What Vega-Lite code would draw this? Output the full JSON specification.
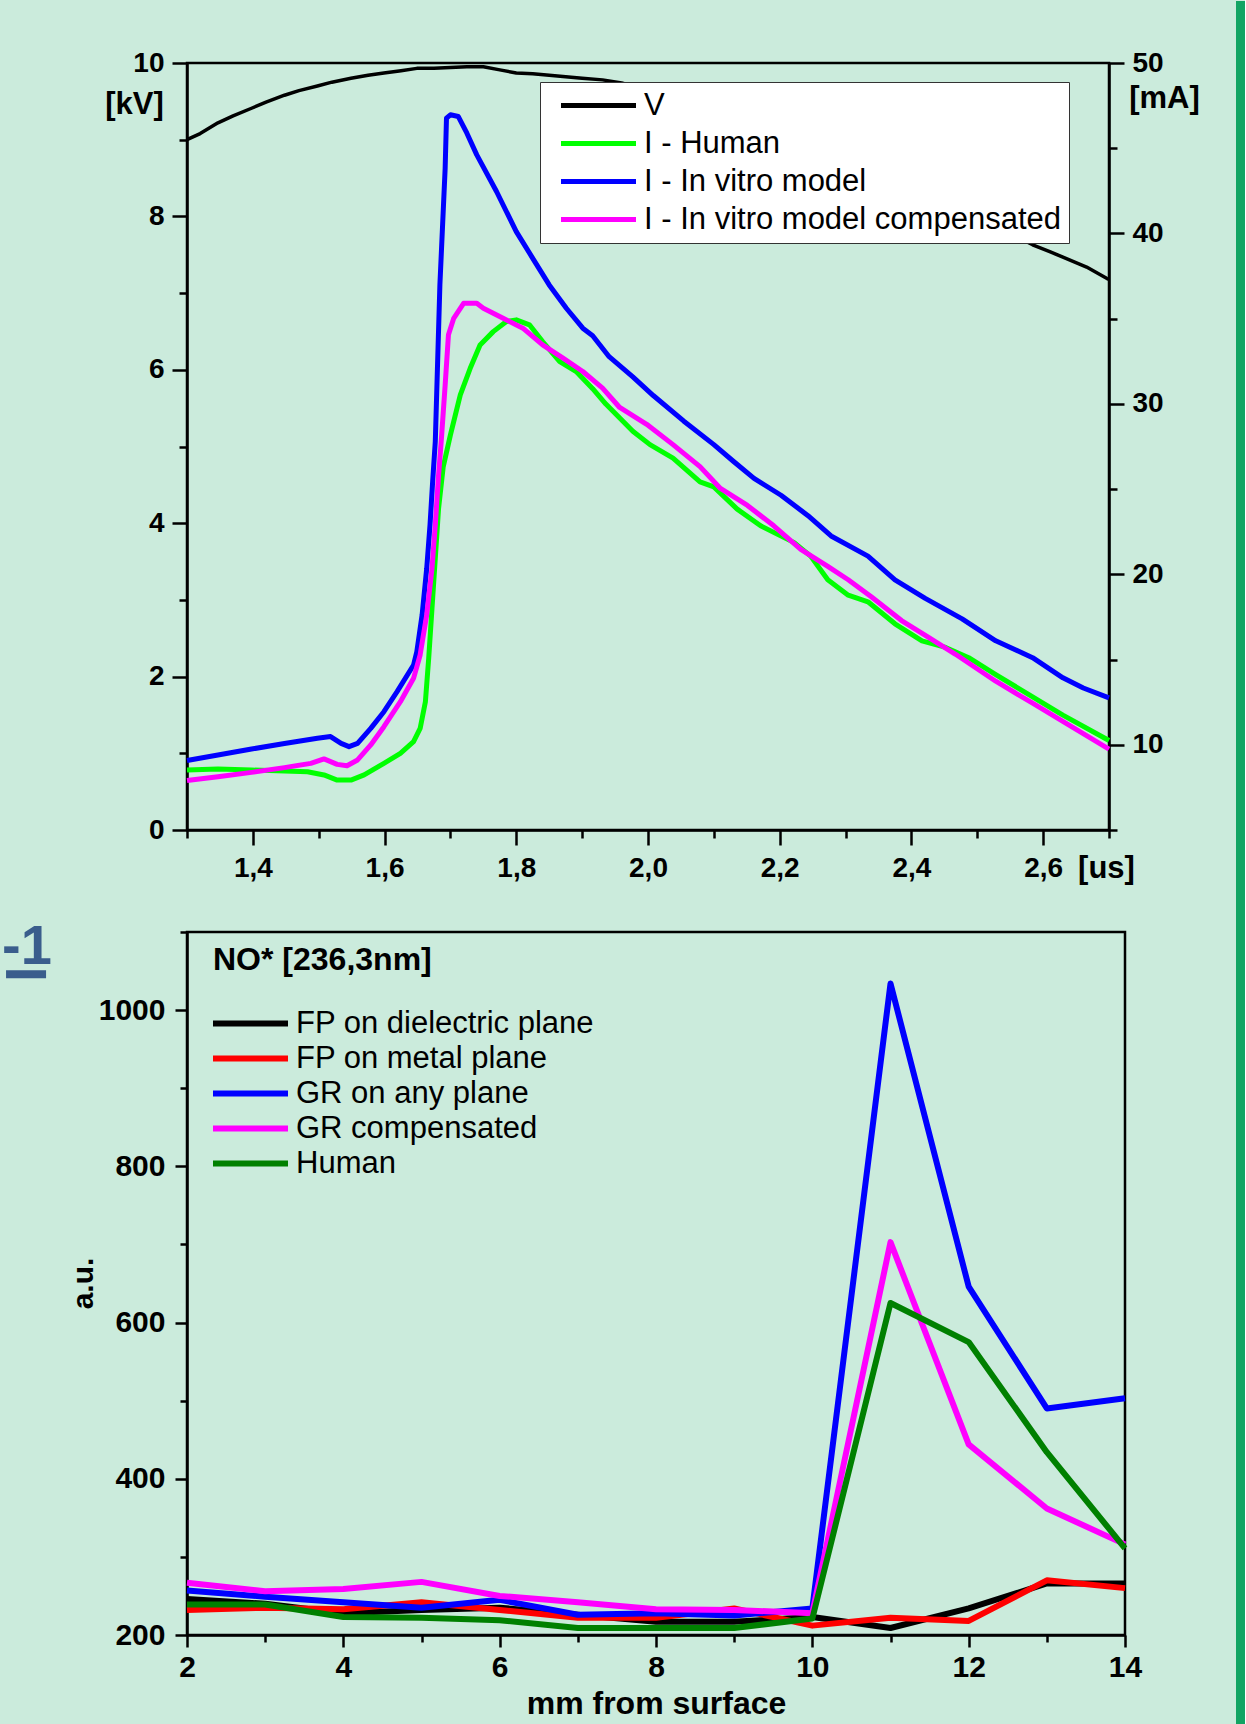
{
  "$schema": "https://vega.github.io/schema/vega-lite/v6.json",
  "background": "#cbebdc",
  "padding": {"left": 0, "top": 0, "right": 0, "bottom": 0},
  "config": {
    "font": "Liberation Sans",
    "view": {"stroke": "black", "strokeWidth": 2.5},
    "axis": {
      "domainColor": "black", "domainWidth": 2.5, "tickColor": "black", "tickWidth": 2.5,
      "labelFont": "Liberation Sans", "labelFontWeight": "bold", "labelFontSize": 28, "labelColor": "black",
      "titleFont": "Liberation Sans", "titleFontWeight": "bold", "titleFontSize": 31, "titleColor": "black",
      "grid": false, "labelFlush": false, "labelOverlap": false, "labelPadding": 8
    }
  },
  "datasets": {
    "V": [
      {"s":"V","t":1.30,"v":9.00},{"s":"V","t":1.32,"v":9.08},{"s":"V","t":1.347,"v":9.22},{"s":"V","t":1.37,"v":9.31},
      {"s":"V","t":1.398,"v":9.41},{"s":"V","t":1.42,"v":9.49},{"s":"V","t":1.448,"v":9.58},{"s":"V","t":1.47,"v":9.64},
      {"s":"V","t":1.498,"v":9.70},{"s":"V","t":1.52,"v":9.75},{"s":"V","t":1.549,"v":9.80},{"s":"V","t":1.575,"v":9.84},
      {"s":"V","t":1.599,"v":9.87},{"s":"V","t":1.625,"v":9.90},{"s":"V","t":1.649,"v":9.93},{"s":"V","t":1.675,"v":9.93},
      {"s":"V","t":1.70,"v":9.94},{"s":"V","t":1.725,"v":9.95},{"s":"V","t":1.75,"v":9.95},{"s":"V","t":1.775,"v":9.91},
      {"s":"V","t":1.80,"v":9.87},{"s":"V","t":1.825,"v":9.86},{"s":"V","t":1.85,"v":9.84},{"s":"V","t":1.875,"v":9.82},
      {"s":"V","t":1.90,"v":9.80},{"s":"V","t":1.931,"v":9.78},{"s":"V","t":1.96,"v":9.74},{"s":"V","t":2.0,"v":9.64},
      {"s":"V","t":2.05,"v":9.50},{"s":"V","t":2.1,"v":9.34},{"s":"V","t":2.2,"v":9.02},{"s":"V","t":2.3,"v":8.68},
      {"s":"V","t":2.4,"v":8.33},{"s":"V","t":2.5,"v":7.97},{"s":"V","t":2.55,"v":7.78},{"s":"V","t":2.584,"v":7.63},
      {"s":"V","t":2.61,"v":7.54},{"s":"V","t":2.63,"v":7.47},{"s":"V","t":2.666,"v":7.34},{"s":"V","t":2.697,"v":7.19},
      {"s":"V","t":2.70,"v":7.18}
    ],
    "I": [
      {"s":"I - Human","t":1.30,"i":8.52},{"s":"I - Human","t":1.347,"i":8.58},{"s":"I - Human","t":1.398,"i":8.52},
      {"s":"I - Human","t":1.448,"i":8.46},{"s":"I - Human","t":1.483,"i":8.42},{"s":"I - Human","t":1.508,"i":8.23},
      {"s":"I - Human","t":1.528,"i":7.93},{"s":"I - Human","t":1.549,"i":7.93},{"s":"I - Human","t":1.569,"i":8.23},
      {"s":"I - Human","t":1.599,"i":8.91},{"s":"I - Human","t":1.624,"i":9.50},{"s":"I - Human","t":1.644,"i":10.18},
      {"s":"I - Human","t":1.654,"i":10.96},{"s":"I - Human","t":1.662,"i":12.53},{"s":"I - Human","t":1.667,"i":15.07},
      {"s":"I - Human","t":1.672,"i":18.00},{"s":"I - Human","t":1.677,"i":20.94},{"s":"I - Human","t":1.682,"i":23.87},
      {"s":"I - Human","t":1.689,"i":26.30},{"s":"I - Human","t":1.700,"i":28.18},{"s":"I - Human","t":1.715,"i":30.53},
      {"s":"I - Human","t":1.730,"i":32.09},{"s":"I - Human","t":1.745,"i":33.46},{"s":"I - Human","t":1.765,"i":34.24},
      {"s":"I - Human","t":1.785,"i":34.83},{"s":"I - Human","t":1.800,"i":34.93},{"s":"I - Human","t":1.820,"i":34.64},
      {"s":"I - Human","t":1.840,"i":33.66},{"s":"I - Human","t":1.866,"i":32.48},{"s":"I - Human","t":1.891,"i":31.90},
      {"s":"I - Human","t":1.916,"i":30.89},{"s":"I - Human","t":1.936,"i":29.99},{"s":"I - Human","t":1.977,"i":28.40},
      {"s":"I - Human","t":2.003,"i":27.61},{"s":"I - Human","t":2.038,"i":26.82},{"s":"I - Human","t":2.079,"i":25.43},
      {"s":"I - Human","t":2.100,"i":25.13},{"s":"I - Human","t":2.135,"i":23.84},{"s":"I - Human","t":2.171,"i":22.85},
      {"s":"I - Human","t":2.222,"i":21.86},{"s":"I - Human","t":2.247,"i":21.07},{"s":"I - Human","t":2.273,"i":19.68},
      {"s":"I - Human","t":2.304,"i":18.78},{"s":"I - Human","t":2.334,"i":18.39},{"s":"I - Human","t":2.375,"i":17.10},
      {"s":"I - Human","t":2.416,"i":16.10},{"s":"I - Human","t":2.452,"i":15.71},{"s":"I - Human","t":2.487,"i":15.11},
      {"s":"I - Human","t":2.528,"i":14.12},{"s":"I - Human","t":2.579,"i":12.93},{"s":"I - Human","t":2.630,"i":11.74},
      {"s":"I - Human","t":2.700,"i":10.25},

      {"s":"I - In vitro model","t":1.30,"i":9.08},{"s":"I - In vitro model","t":1.347,"i":9.40},{"s":"I - In vitro model","t":1.398,"i":9.75},
      {"s":"I - In vitro model","t":1.448,"i":10.08},{"s":"I - In vitro model","t":1.498,"i":10.38},{"s":"I - In vitro model","t":1.518,"i":10.48},
      {"s":"I - In vitro model","t":1.534,"i":10.08},{"s":"I - In vitro model","t":1.546,"i":9.89},{"s":"I - In vitro model","t":1.559,"i":10.08},
      {"s":"I - In vitro model","t":1.579,"i":10.96},{"s":"I - In vitro model","t":1.599,"i":11.94},{"s":"I - In vitro model","t":1.619,"i":13.12},
      {"s":"I - In vitro model","t":1.644,"i":14.68},{"s":"I - In vitro model","t":1.649,"i":15.46},{"s":"I - In vitro model","t":1.657,"i":17.62},
      {"s":"I - In vitro model","t":1.664,"i":20.35},{"s":"I - In vitro model","t":1.669,"i":22.90},{"s":"I - In vitro model","t":1.673,"i":25.44},
      {"s":"I - In vitro model","t":1.677,"i":27.79},{"s":"I - In vitro model","t":1.684,"i":36.98},{"s":"I - In vitro model","t":1.692,"i":43.83},
      {"s":"I - In vitro model","t":1.694,"i":46.76},{"s":"I - In vitro model","t":1.700,"i":46.96},{"s":"I - In vitro model","t":1.712,"i":46.86},
      {"s":"I - In vitro model","t":1.725,"i":45.88},{"s":"I - In vitro model","t":1.740,"i":44.61},{"s":"I - In vitro model","t":1.770,"i":42.46},
      {"s":"I - In vitro model","t":1.800,"i":40.11},{"s":"I - In vitro model","t":1.825,"i":38.54},{"s":"I - In vitro model","t":1.850,"i":36.98},
      {"s":"I - In vitro model","t":1.876,"i":35.61},{"s":"I - In vitro model","t":1.901,"i":34.44},{"s":"I - In vitro model","t":1.916,"i":34.00},
      {"s":"I - In vitro model","t":1.941,"i":32.77},{"s":"I - In vitro model","t":1.977,"i":31.58},{"s":"I - In vitro model","t":2.008,"i":30.49},
      {"s":"I - In vitro model","t":2.054,"i":29.00},{"s":"I - In vitro model","t":2.100,"i":27.61},{"s":"I - In vitro model","t":2.130,"i":26.62},
      {"s":"I - In vitro model","t":2.161,"i":25.63},{"s":"I - In vitro model","t":2.202,"i":24.64},{"s":"I - In vitro model","t":2.243,"i":23.44},
      {"s":"I - In vitro model","t":2.278,"i":22.25},{"s":"I - In vitro model","t":2.334,"i":21.07},{"s":"I - In vitro model","t":2.375,"i":19.68},
      {"s":"I - In vitro model","t":2.421,"i":18.59},{"s":"I - In vitro model","t":2.477,"i":17.39},{"s":"I - In vitro model","t":2.528,"i":16.10},
      {"s":"I - In vitro model","t":2.584,"i":15.11},{"s":"I - In vitro model","t":2.630,"i":13.93},{"s":"I - In vitro model","t":2.661,"i":13.33},
      {"s":"I - In vitro model","t":2.700,"i":12.75},

      {"s":"I - In vitro model compensated","t":1.30,"i":7.90},{"s":"I - In vitro model compensated","t":1.347,"i":8.13},
      {"s":"I - In vitro model compensated","t":1.398,"i":8.38},{"s":"I - In vitro model compensated","t":1.448,"i":8.66},
      {"s":"I - In vitro model compensated","t":1.488,"i":8.91},{"s":"I - In vitro model compensated","t":1.508,"i":9.17},
      {"s":"I - In vitro model compensated","t":1.528,"i":8.85},{"s":"I - In vitro model compensated","t":1.543,"i":8.77},
      {"s":"I - In vitro model compensated","t":1.559,"i":9.11},{"s":"I - In vitro model compensated","t":1.579,"i":9.99},
      {"s":"I - In vitro model compensated","t":1.599,"i":11.06},{"s":"I - In vitro model compensated","t":1.624,"i":12.53},
      {"s":"I - In vitro model compensated","t":1.644,"i":13.90},{"s":"I - In vitro model compensated","t":1.654,"i":15.27},
      {"s":"I - In vitro model compensated","t":1.664,"i":17.62},{"s":"I - In vitro model compensated","t":1.672,"i":20.35},
      {"s":"I - In vitro model compensated","t":1.677,"i":22.90},{"s":"I - In vitro model compensated","t":1.682,"i":25.83},
      {"s":"I - In vitro model compensated","t":1.686,"i":27.79},{"s":"I - In vitro model compensated","t":1.692,"i":31.11},
      {"s":"I - In vitro model compensated","t":1.697,"i":34.05},{"s":"I - In vitro model compensated","t":1.705,"i":35.02},
      {"s":"I - In vitro model compensated","t":1.720,"i":35.90},{"s":"I - In vitro model compensated","t":1.740,"i":35.90},
      {"s":"I - In vitro model compensated","t":1.750,"i":35.61},{"s":"I - In vitro model compensated","t":1.780,"i":35.02},
      {"s":"I - In vitro model compensated","t":1.810,"i":34.44},{"s":"I - In vitro model compensated","t":1.840,"i":33.46},
      {"s":"I - In vitro model compensated","t":1.871,"i":32.68},{"s":"I - In vitro model compensated","t":1.901,"i":31.90},
      {"s":"I - In vitro model compensated","t":1.931,"i":30.92},{"s":"I - In vitro model compensated","t":1.957,"i":29.79},
      {"s":"I - In vitro model compensated","t":1.998,"i":28.80},{"s":"I - In vitro model compensated","t":2.038,"i":27.61},
      {"s":"I - In vitro model compensated","t":2.079,"i":26.32},{"s":"I - In vitro model compensated","t":2.110,"i":25.04},
      {"s":"I - In vitro model compensated","t":2.151,"i":24.04},{"s":"I - In vitro model compensated","t":2.191,"i":22.85},
      {"s":"I - In vitro model compensated","t":2.232,"i":21.46},{"s":"I - In vitro model compensated","t":2.273,"i":20.47},
      {"s":"I - In vitro model compensated","t":2.304,"i":19.68},{"s":"I - In vitro model compensated","t":2.339,"i":18.69},
      {"s":"I - In vitro model compensated","t":2.385,"i":17.29},{"s":"I - In vitro model compensated","t":2.426,"i":16.30},
      {"s":"I - In vitro model compensated","t":2.467,"i":15.31},{"s":"I - In vitro model compensated","t":2.528,"i":13.73},
      {"s":"I - In vitro model compensated","t":2.584,"i":12.44},{"s":"I - In vitro model compensated","t":2.640,"i":11.14},
      {"s":"I - In vitro model compensated","t":2.700,"i":9.75}
    ],
    "B": [
      {"s":"FP on dielectric plane","mm":2,"v":246},{"s":"FP on dielectric plane","mm":3,"v":240},{"s":"FP on dielectric plane","mm":4,"v":228},
      {"s":"FP on dielectric plane","mm":5,"v":232},{"s":"FP on dielectric plane","mm":6,"v":235},{"s":"FP on dielectric plane","mm":7,"v":226},
      {"s":"FP on dielectric plane","mm":8,"v":217},{"s":"FP on dielectric plane","mm":9,"v":217},{"s":"FP on dielectric plane","mm":10,"v":223},
      {"s":"FP on dielectric plane","mm":11,"v":209},{"s":"FP on dielectric plane","mm":12,"v":234},{"s":"FP on dielectric plane","mm":13,"v":266},
      {"s":"FP on dielectric plane","mm":14,"v":266},
      {"s":"FP on metal plane","mm":2,"v":232},{"s":"FP on metal plane","mm":3,"v":235},{"s":"FP on metal plane","mm":4,"v":233},
      {"s":"FP on metal plane","mm":5,"v":242},{"s":"FP on metal plane","mm":6,"v":232},{"s":"FP on metal plane","mm":7,"v":222},
      {"s":"FP on metal plane","mm":8,"v":222},{"s":"FP on metal plane","mm":9,"v":234},{"s":"FP on metal plane","mm":10,"v":212},
      {"s":"FP on metal plane","mm":11,"v":222},{"s":"FP on metal plane","mm":12,"v":218},{"s":"FP on metal plane","mm":13,"v":270},
      {"s":"FP on metal plane","mm":14,"v":260},
      {"s":"GR on any plane","mm":2,"v":257},{"s":"GR on any plane","mm":3,"v":249},{"s":"GR on any plane","mm":4,"v":242},
      {"s":"GR on any plane","mm":5,"v":235},{"s":"GR on any plane","mm":6,"v":245},{"s":"GR on any plane","mm":7,"v":226},
      {"s":"GR on any plane","mm":8,"v":228},{"s":"GR on any plane","mm":9,"v":225},{"s":"GR on any plane","mm":10,"v":234},
      {"s":"GR on any plane","mm":11,"v":1034},{"s":"GR on any plane","mm":12,"v":646},{"s":"GR on any plane","mm":13,"v":490},
      {"s":"GR on any plane","mm":14,"v":503},
      {"s":"GR compensated","mm":2,"v":267},{"s":"GR compensated","mm":3,"v":256},{"s":"GR compensated","mm":4,"v":259},
      {"s":"GR compensated","mm":5,"v":268},{"s":"GR compensated","mm":6,"v":250},{"s":"GR compensated","mm":7,"v":242},
      {"s":"GR compensated","mm":8,"v":233},{"s":"GR compensated","mm":9,"v":232},{"s":"GR compensated","mm":10,"v":228},
      {"s":"GR compensated","mm":11,"v":703},{"s":"GR compensated","mm":12,"v":444},{"s":"GR compensated","mm":13,"v":362},
      {"s":"GR compensated","mm":14,"v":316},
      {"s":"Human","mm":2,"v":239},{"s":"Human","mm":3,"v":239},{"s":"Human","mm":4,"v":223},
      {"s":"Human","mm":5,"v":222},{"s":"Human","mm":6,"v":219},{"s":"Human","mm":7,"v":209},
      {"s":"Human","mm":8,"v":209},{"s":"Human","mm":9,"v":209},{"s":"Human","mm":10,"v":221},
      {"s":"Human","mm":11,"v":625},{"s":"Human","mm":12,"v":575},{"s":"Human","mm":13,"v":434},
      {"s":"Human","mm":14,"v":311}
    ],
    "L": [{"label":"-1","x0":-0.366,"xr":-0.315,"x1":0.197,"y":1059,"yu":1046}],
    "G": [{"x0":0,"x1":1,"y0":-40,"y1":1762}]
  },
  "hconcat": [
    {
      "title": {"text": " ", "fontSize": 2, "offset": 45},
      "resolve": {"scale": {"color": "independent"}, "legend": {"color": "independent"}},
      "spacing": 30,
      "vconcat": [
        {
          "width": 922,
          "height": 767,
          "encoding": {
            "x": {
              "field": "t", "type": "quantitative",
              "scale": {"domain": [1.3, 2.7], "nice": false, "zero": false},
              "axis": {
                "values": [1.3,1.4,1.5,1.6,1.7,1.8,1.9,2.0,2.1,2.2,2.3,2.4,2.5,2.6,2.7],
                "labelExpr": "round(datum.value*10) % 2 == 0 ? replace(format(datum.value, '.1f'), '.', ',') : ''",
                "tickSize": {"condition": {"test": "round(datum.value*10) % 2 == 0", "value": 15}, "value": 8},
                "labelPadding": 9,
                "title": "[us]", "titleAngle": 0, "titleX": 919, "titleY": 38, "titleAlign": "center", "titleBaseline": "middle"
              }
            },
            "color": {
              "field": "s", "type": "nominal",
              "scale": {
                "domain": ["V", "I - Human", "I - In vitro model", "I - In vitro model compensated"],
                "range": ["#000000", "#00ff00", "#0000ff", "#ff00ff"]
              },
              "legend": {
                "title": null, "orient": "none", "legendX": 353, "legendY": 19, "direction": "vertical",
                "fillColor": "#ffffff", "strokeColor": "#333333", "padding": 8,
                "symbolType": "M-3,0H3", "symbolSize": 625, "symbolStrokeWidth": 5, "symbolOffset": 35,
                "labelFont": "Liberation Sans", "labelFontSize": 31, "labelFontWeight": "normal", "labelColor": "black",
                "labelOffset": 30, "rowPadding": 6, "labelLimit": 0, "zindex": 1
              }
            }
          },
          "layer": [
            {
              "data": {"name": "V"},
              "mark": {"type": "line", "strokeWidth": 3.5, "strokeJoin": "round"},
              "encoding": {
                "y": {
                  "field": "v", "type": "quantitative",
                  "scale": {"domain": [0, 10], "nice": false, "zero": false},
                  "axis": {
                    "orient": "left",
                    "values": [0,1,2,3,4,5,6,7,8,9,10],
                    "labelExpr": "datum.value % 2 == 0 ? datum.label : ''",
                    "tickSize": {"condition": {"test": "datum.value % 2 == 0", "value": 15}, "value": 8},
                    "title": "[kV]", "titleAngle": 0, "titleX": -53, "titleY": 41, "titleAlign": "center", "titleBaseline": "middle"
                  }
                }
              }
            },
            {
              "data": {"name": "I"},
              "mark": {"type": "line", "strokeWidth": 5, "strokeJoin": "round"},
              "encoding": {
                "y": {
                  "field": "i", "type": "quantitative",
                  "scale": {"domain": [5, 50], "nice": false, "zero": false},
                  "axis": {
                    "orient": "right",
                    "values": [5,10,15,20,25,30,35,40,45,50],
                    "labelExpr": "datum.value % 10 == 0 ? datum.label : ''",
                    "tickSize": {"condition": {"test": "datum.value % 10 == 0", "value": 15}, "value": 8},
                    "title": "[mA]", "titleAngle": 0, "titleX": 55, "titleY": 35, "titleAlign": "center", "titleBaseline": "middle"
                  }
                }
              }
            }
          ],
          "resolve": {"scale": {"y": "independent"}}
        },
        {
          "width": 938,
          "height": 703,
          "layer": [
            {
              "data": {"name": "B"},
              "mark": {"type": "line", "strokeWidth": 6, "strokeJoin": "round"},
              "encoding": {
                "x": {
                  "field": "mm", "type": "quantitative",
                  "scale": {"domain": [2, 14], "nice": false, "zero": false},
                  "axis": {
                    "values": [2,3,4,5,6,7,8,9,10,11,12,13,14],
                    "format": "d",
                    "labelExpr": "datum.value % 2 == 0 ? datum.label : ''",
                    "tickSize": {"condition": {"test": "datum.value % 2 == 0", "value": 12}, "value": 7},
                    "labelPadding": 5, "labelFontSize": 30,
                    "title": "mm from surface", "titleFontSize": 32, "titleY": 68, "titleBaseline": "middle"
                  }
                },
                "y": {
                  "field": "v", "type": "quantitative",
                  "scale": {"domain": [200, 1100], "nice": false, "zero": false},
                  "axis": {
                    "values": [200,300,400,500,600,700,800,900,1000,1100],
                    "format": "d",
                    "labelExpr": "datum.value % 200 == 0 && datum.value <= 1000 ? datum.label : ''",
                    "tickSize": {"condition": {"test": "datum.value % 200 == 0", "value": 12}, "value": 7},
                    "labelPadding": 10, "labelFontSize": 30,
                    "title": "a.u.", "titleFontSize": 30, "titleAngle": -90, "titleX": -104, "titleY": 351, "titleAlign": "center", "titleBaseline": "middle"
                  }
                },
                "color": {
                  "field": "s", "type": "nominal",
                  "scale": {
                    "domain": ["FP on dielectric plane", "FP on metal plane", "GR on any plane", "GR compensated", "Human"],
                    "range": ["#000000", "#ff0000", "#0000ff", "#ff00ff", "#008000"]
                  },
                  "legend": {
                    "title": "NO* [236,3nm]", "orient": "none", "legendX": 26, "legendY": 13, "direction": "vertical",
                    "titleFont": "Liberation Sans", "titleFontSize": 32, "titleFontWeight": "bold", "titleColor": "black",
                    "titlePadding": 31, "titleLimit": 600,
                    "padding": 0, "symbolType": "M-3,0H3", "symbolSize": 625, "symbolStrokeWidth": 6, "symbolOffset": 22,
                    "labelFont": "Liberation Sans", "labelFontSize": 31, "labelFontWeight": "normal", "labelColor": "black",
                    "labelOffset": 30, "rowPadding": 3, "labelLimit": 0
                  }
                }
              }
            },
            {
              "data": {"name": "L"},
              "mark": {"type": "text", "align": "left", "baseline": "alphabetic", "fontSize": 56, "fontWeight": "bold", "color": "#3a5d8c", "clip": false},
              "encoding": {
                "x": {"field": "x0", "type": "quantitative"},
                "y": {"field": "y", "type": "quantitative"},
                "text": {"field": "label"}
              }
            },
            {
              "data": {"name": "L"},
              "mark": {"type": "rule", "strokeWidth": 8, "color": "#3a5d8c", "clip": false},
              "encoding": {
                "x": {"field": "xr", "type": "quantitative"},
                "x2": {"field": "x1"},
                "y": {"field": "yu", "type": "quantitative"}
              }
            }
          ]
        }
      ]
    },
    {
      "width": 9,
      "height": 1700,
      "data": {"name": "G"},
      "mark": {"type": "rect", "color": "#12a463", "clip": false},
      "encoding": {
        "x": {"field": "x0", "type": "quantitative", "scale": {"domain": [0, 1], "nice": false, "zero": false}, "axis": null},
        "x2": {"field": "x1"},
        "y": {"field": "y0", "type": "quantitative", "scale": {"domain": [0, 1700], "nice": false, "zero": false}, "axis": null},
        "y2": {"field": "y1"}
      },
      "view": {"stroke": null}
    }
  ],
  "spacing": 35
}
